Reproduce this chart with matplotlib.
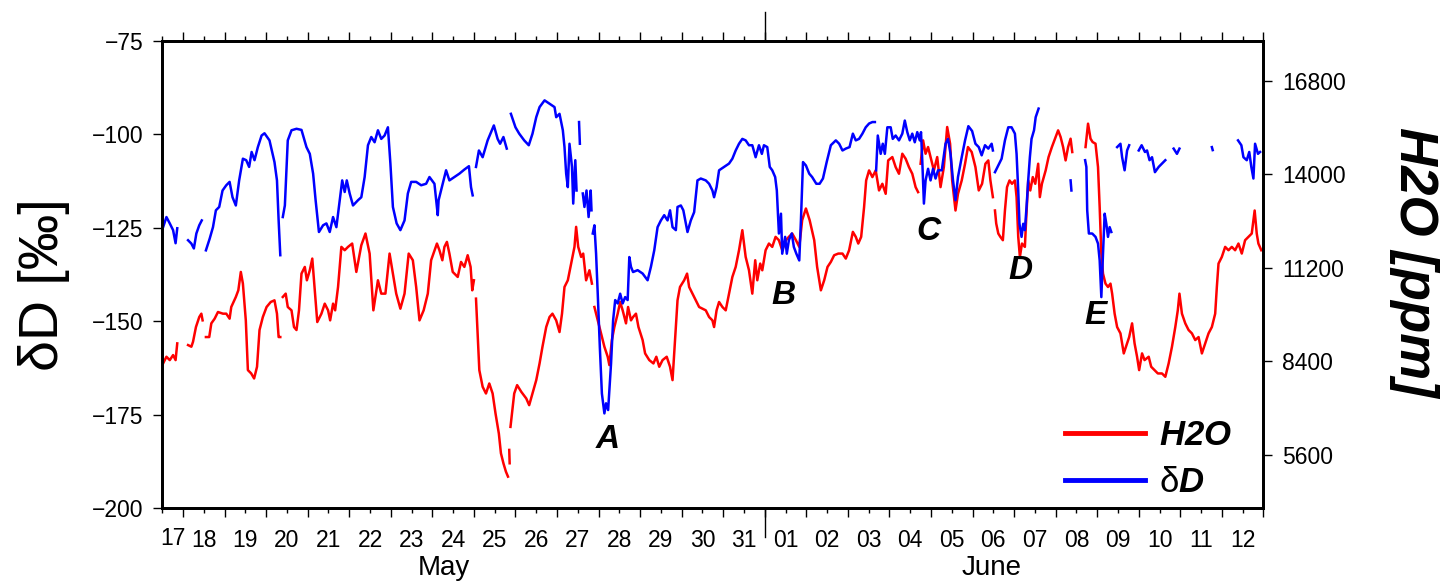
import datetime as dt
import numpy as np
import matplotlib
matplotlib.use('Agg')
import matplotlib.pyplot as plt
import matplotlib.dates as mdates
from matplotlib.lines import Line2D
from matplotlib.ticker import MultipleLocator, NullFormatter, FuncFormatter

nan = np.nan
START = dt.datetime(2016, 5, 17)

# days after 17 May 00:00, nan = gap in the record
dd_day = [0.52, 0.60, 0.68, 0.76, 0.82, 0.86, 0.99,
          1.12, 1.20, 1.26, 1.32, 1.39, 1.45, 1.50,
          1.55, 1.64, 1.72, 1.79, 1.87, 1.95, 2.04, 2.12, 2.19, 2.27, 2.35, 2.44, 2.52, 2.59, 2.65, 2.72,
          2.80, 2.89, 2.96, 3.08, 3.20, 3.26, 3.30, 3.34, 3.37,
          3.40, 3.45, 3.52, 3.61, 3.73, 3.85, 3.97, 4.05, 4.13, 4.19, 4.27, 4.37, 4.45, 4.53, 4.61, 4.69,
          4.77, 4.83, 4.89, 4.94, 5.01, 5.09, 5.21, 5.29, 5.37, 5.45, 5.53, 5.61, 5.69, 5.77, 5.85, 5.93,
          5.99, 6.05, 6.14, 6.23, 6.33, 6.41, 6.49, 6.61, 6.73, 6.85, 6.93, 7.05, 7.13, 7.15, 7.25, 7.33,
          7.41, 7.53, 7.65, 7.77, 7.88, 7.93, 7.97, 8.01,
          8.05, 8.12, 8.21, 8.33, 8.48, 8.57, 8.63, 8.71, 8.79, 8.84,
          8.89, 9.00, 9.09, 9.21, 9.32, 9.41, 9.50, 9.58, 9.70, 9.82, 9.94, 9.98, 10.06, 10.14, 10.18,
          10.22, 10.26, 10.30, 10.36, 10.39, 10.44, 10.47, 10.50,
          10.53, 10.55, 10.58,
          10.62, 10.66, 10.71, 10.76, 10.81, 10.83, 10.845,
          10.86, 10.90, 10.94, 10.98, 11.03, 11.08, 11.14, 11.18, 11.23, 11.30, 11.35, 11.40, 11.46, 11.52,
          11.58, 11.64, 11.70, 11.74, 11.78, 11.83, 11.94, 12.06, 12.18, 12.26, 12.34, 12.42, 12.50, 12.58,
          12.66, 12.72, 12.78, 12.86, 12.90, 12.98, 13.04, 13.14, 13.22, 13.30, 13.38, 13.46, 13.58, 13.66,
          13.74, 13.78, 13.84, 13.90, 14.02, 14.14, 14.22, 14.30, 14.38, 14.46, 14.54, 14.62, 14.70, 14.78,
          14.86, 14.93, 14.98, 15.06, 15.12, 15.18, 15.25, 15.29, 15.34, 15.39, 15.42, 15.49, 15.53, 15.58,
          15.65, 15.70, 15.76, 15.83, 15.87, 15.92, 15.99, 16.07, 16.14, 16.24, 16.32, 16.40, 16.49, 16.59,
          16.71, 16.79, 16.87, 16.95, 17.04, 17.12, 17.19, 17.27, 17.35, 17.43, 17.51, 17.59, 17.65, 17.67,
          17.68, 17.72, 17.79, 17.84, 17.89, 17.95, 18.03, 18.08, 18.15, 18.23, 18.31, 18.37, 18.43, 18.49,
          18.55, 18.61, 18.67, 18.73, 18.76, 18.79, 18.83, 18.87, 18.93, 18.99, 19.05, 19.11, 19.17, 19.26,
          19.35, 19.41, 19.47, 19.53, 19.59, 19.65, 19.74, 19.82, 19.90, 19.99, 20.07, 20.15, 20.22, 20.30,
          20.38, 20.46, 20.49, 20.51,
          20.54, 20.62, 20.70, 20.78, 20.86, 20.94, 21.02, 21.06, 21.10, 21.13, 21.18, 21.22, 21.26, 21.30,
          21.34, 21.38, 21.42, 21.48, 21.52, 21.59, 21.90,
          22.36, 22.38, 22.50,
          22.71, 22.74, 22.76, 22.80, 22.88, 22.96, 23.02, 23.06, 23.10, 23.14, 23.18, 23.22, 23.26, 23.30,
          23.34, 23.40,
          23.48, 23.56, 23.60, 23.66, 23.72, 23.77, 23.90,
          24.00, 24.07, 24.15, 24.20, 24.26, 24.32, 24.39, 24.48, 24.56, 24.64, 24.75,
          24.84, 24.92, 24.98, 25.40,
          25.76, 25.78, 26.00,
          26.39, 26.47, 26.52, 26.60, 26.66, 26.71, 26.76, 26.80, 26.87, 26.92]
dd_val = [-124.9, -122.2, -123.9, -125.7, -129.2, -125.2, nan,
          -128.4, -129.3, -130.6, -126.6, -124.4, -123.1, nan,
          -131.1, -128.0, -124.9, -120.4, -119.5, -115.1, -113.7, -112.8, -116.9, -119.1, -112.4, -106.6, -107.0, -108.8, -104.8, -107.0,
          -103.5, -100.4, -99.8, -101.7, -107.5, -112.4, -123.1, -132.4, nan,
          -122.2, -119.1, -101.7, -99.0, -98.6, -98.9, -103.5, -105.3, -110.6, -117.7, -126.2, -124.4, -123.9, -126.2, -122.2, -124.9,
          -117.7, -112.4, -115.5, -112.4, -115.9, -119.1, -117.7, -116.9, -111.5, -103.0, -100.8, -102.2, -99.0, -101.3, -100.4, -98.2,
          -107.9, -119.5, -123.9, -125.7, -123.1, -115.9, -112.8, -112.8, -113.7, -113.3, -111.5, -113.3, -121.7, -117.7, -113.3, -109.7,
          -112.4, -111.5, -110.6, -109.5, -108.6, -114.2, -116.4, nan,
          -108.8, -104.4, -106.2, -101.7, -97.7, -101.3, -102.6, -100.8, -103.9, nan,
          -94.6, -98.2, -99.9, -101.7, -103.0, -99.9, -95.5, -92.8, -91.0, -91.9, -92.8, -95.5, -94.6, -99.0, -103.5,
          -110.6, -114.2, -102.6, -108.8, -118.6, -107.0, -115.1, nan,
          -96.8, -102.6, nan,
          -115.9, -119.5, -115.1, -122.2, -115.1, -120.4, nan,
          -126.6, -124.4, -132.0, -142.7, -156.9, -169.4, -174.7, -172.0, -173.8, -161.4, -149.8, -144.4, -145.3, -142.7,
          -145.3, -143.6, -144.4, -132.9, -135.5, -136.9, -136.4, -137.3, -139.1, -135.5, -131.1, -124.9, -123.1, -121.7,
          -123.1, -120.4, -124.9, -125.7, -119.5, -119.1, -120.4, -126.2, -123.1, -120.9, -112.4, -111.9, -112.4, -113.3,
          -115.1, -116.9, -114.2, -109.7, -108.8, -107.9, -106.6, -104.4, -102.6, -101.3, -101.7, -103.0, -103.0, -106.2,
          -103.0, -105.3, -103.0, -103.5, -108.8, -109.7, -111.5, -115.1, -126.6, -121.3, -132.0, -127.5, -132.0, -128.4,
          -126.6, -130.2, -132.0, -133.8, -123.1, -107.5, -108.4, -110.6, -111.5, -113.3, -113.3, -111.9, -107.5, -103.0,
          -101.7, -102.6, -104.4, -103.9, -103.5, -99.9, -101.7, -101.3, -99.9, -98.2, -97.2, -96.8, -96.8, nan,
          -109.7, -100.4, -105.3, -102.6, -105.3, -98.2, -98.2, -101.3, -100.4, -101.7, -99.9, -96.4, -99.5, -101.7,
          -99.9, -102.2, -99.5, -101.7, -99.5, -107.0, -118.6, -112.4, -109.3, -112.4, -109.3, -111.9, -109.7, -109.7,
          -102.6, -101.3, -105.3, -112.4, -117.7, -111.5, -106.2, -101.7, -97.9, -99.2, -102.6, -103.5, -105.7, -103.0,
          -103.9, -102.6, -104.4, nan,
          -110.2, -108.4, -106.6, -101.7, -98.2, -98.2, -99.9, -105.3, -115.1, -124.0, -127.5, -124.0, -125.7, -119.5,
          -112.4, -106.2, -101.3, -99.0, -95.5, -93.2, nan,
          -112.4, -115.1, nan,
          -107.0, -108.8, -120.4, -126.6, -126.6, -127.5, -129.3, -133.8, -143.6, -132.0, -121.3, -124.0, -127.5, -124.9,
          -126.2, nan,
          -103.5, -102.6, -106.2, -109.7, -104.4, -103.0, nan,
          -104.4, -103.0, -104.8, -104.4, -107.0, -106.2, -110.2, -108.8, -107.9, -107.0, nan,
          -103.9, -105.3, -103.9, nan,
          -103.5, -104.3, nan,
          -101.7, -103.0, -106.2, -107.0, -104.8, -108.8, -111.9, -102.6, -105.3, -104.8]

h2o_day = [0.52, 0.60, 0.68, 0.76, 0.82, 0.86, 0.99,
           1.12, 1.20, 1.24, 1.31, 1.39, 1.44, 1.47, 1.50,
           1.55, 1.63, 1.68, 1.76, 1.84, 1.96, 2.04, 2.12, 2.16, 2.27, 2.33, 2.39, 2.44, 2.51, 2.56, 2.64,
           2.71, 2.78, 2.84, 2.92, 3.01, 3.11, 3.20, 3.26, 3.30, 3.34, 3.37,
           3.40, 3.47, 3.52, 3.61, 3.67, 3.73, 3.79, 3.85, 3.93, 3.98, 4.05, 4.11, 4.17, 4.23, 4.33, 4.41,
           4.49, 4.54, 4.61, 4.66, 4.73, 4.81, 4.89, 4.97, 5.07, 5.17, 5.29, 5.39, 5.49, 5.58, 5.69, 5.77,
           5.87, 5.97, 6.05, 6.13, 6.23, 6.33, 6.43, 6.53, 6.61, 6.69, 6.79, 6.89, 6.97, 7.11, 7.17, 7.24,
           7.29, 7.35, 7.41, 7.49, 7.61, 7.69, 7.77, 7.85, 7.92, 7.96, 8.00, 8.03,
           8.05, 8.13, 8.21, 8.29, 8.37, 8.45, 8.52, 8.60, 8.65, 8.71, 8.77, 8.82, 8.84,
           8.85, 8.86, 8.87,
           8.88, 8.97, 9.04, 9.14, 9.26, 9.33, 9.41, 9.50, 9.58, 9.65, 9.74, 9.82, 9.89, 9.98, 10.06,
           10.12, 10.18, 10.26, 10.34, 10.42, 10.46, 10.51, 10.58, 10.63, 10.70, 10.78, 10.84, 10.87,
           10.90, 10.98, 11.06, 11.14, 11.22, 11.26, 11.32, 11.38, 11.46, 11.52, 11.58, 11.66, 11.71, 11.78,
           11.83, 11.90, 11.96, 12.06, 12.12, 12.22, 12.32, 12.39, 12.46, 12.54, 12.64, 12.72, 12.78, 12.84,
           12.90, 12.96, 13.06, 13.13, 13.18, 13.26, 13.34, 13.42, 13.50, 13.58, 13.66, 13.74, 13.78, 13.84,
           13.90, 13.98, 14.06, 14.14, 14.22, 14.30, 14.38, 14.46, 14.54, 14.62, 14.70, 14.77, 14.82, 14.89,
           14.94, 15.02, 15.10, 15.18, 15.26, 15.34, 15.42, 15.51, 15.58, 15.66, 15.75, 15.83, 15.90, 15.99,
           16.08, 16.19, 16.26, 16.35, 16.43, 16.51, 16.59, 16.67, 16.77, 16.87, 16.95, 17.03, 17.12, 17.19,
           17.25, 17.32, 17.39, 17.44, 17.51, 17.59, 17.67, 17.75, 17.83, 17.91, 17.97, 18.07, 18.15, 18.23,
           18.31, 18.39, 18.47, 18.55, 18.63, 18.69, 18.72,
           18.75, 18.81, 18.87, 18.93, 18.99, 19.07, 19.15, 19.23, 19.31, 19.39, 19.46, 19.51, 19.59, 19.65,
           19.74, 19.82, 19.89, 19.98, 20.07, 20.15, 20.23, 20.31, 20.38, 20.43, 20.49, 20.51,
           20.54, 20.57, 20.62, 20.67, 20.73, 20.78, 20.83, 20.89, 20.95, 21.02, 21.06, 21.10, 21.14, 21.19,
           21.26, 21.29, 21.34, 21.39, 21.45, 21.51, 21.58, 21.62, 21.67, 21.76, 21.83, 21.91, 22.00, 22.06,
           22.12, 22.18, 22.24, 22.30, 22.36, 22.40, 22.50,
           22.72, 22.78, 22.84, 22.89, 22.96, 23.02, 23.06, 23.10, 23.14, 23.20, 23.26, 23.32, 23.36, 23.42,
           23.48, 23.56, 23.64, 23.72, 23.77, 23.84, 23.90, 23.96, 24.01, 24.08, 24.14, 24.24, 24.30, 24.38,
           24.46, 24.56, 24.64, 24.72, 24.80, 24.88, 24.94, 24.98, 25.04, 25.12, 25.20, 25.28, 25.36, 25.44,
           25.52, 25.60, 25.68, 25.76, 25.84, 25.88, 25.92, 26.00, 26.08, 26.16, 26.24, 26.32, 26.40, 26.48,
           26.56, 26.64, 26.72, 26.79, 26.84, 26.88, 26.95]
h2o_ppm = [8330, 8530, 8430, 8580, 8430, 8930, nan,
           8880, 8830, 8980, 9420, 9720, 9820, 9620, nan,
           9120, 9120, 9530, 9670, 9870, 9820, 9820, 9670, 10020, 10320, 10520, 11070, 10720, 9620, 8130, 8030,
           7880, 8230, 9330, 9720, 10020, 10170, 10220, 9820, 9120, 9120, nan,
           10320, 10420, 10020, 9920, 9420, 9330, 9920, 11020, 11220, 10820, 11120, 11470, 10520, 9570, 9820, 10120,
           9920, 9620, 10120, 9920, 10620, 11820, 11720, 11820, 11920, 11070, 11870, 12220, 11620, 9920, 10820, 10420,
           10420, 11620, 11020, 10420, 9970, 10420, 11620, 11420, 10620, 9620, 9920, 10420, 11420, 11920, 11720, 11420,
           11820, 11970, 11620, 11070, 10920, 11370, 11220, 11570, 11220, 10520, 10820, nan,
           10270, 8130, 7630, 7430, 7730, 7430, 6830, 6230, 5640, 5340, 5090, 4940, nan,
           5740, 5340, nan,
           6430, 7430, 7680, 7480, 7280, 7080, 7430, 7830, 8330, 8830, 9420, 9720, 9820, 9620, 9270,
           9820, 10620, 10820, 11320, 11820, 12420, 11820, 11520, 11620, 10820, 11120, 10720, nan,
           10020, 9620, 9230, 8830, 8530, 8280, 9030, 9420, 9820, 10170, 9920, 9530, 10020, 9620,
           9720, 9820, 9420, 9030, 8630, 8430, 8330, 8530, 8230, 8430, 8530, 8230, 7830, 9030,
           10220, 10620, 10820, 11020, 10620, 10420, 10220, 10020, 9970, 9920, 9720, 9620, 9420, 9920,
           10170, 10020, 9920, 10420, 10920, 11220, 11720, 12320, 11520, 11120, 10420, 11420, 10820, 11320,
           11120, 11720, 11920, 11820, 12120, 12020, 11720, 12020, 12120, 12220, 12020, 11820, 12620, 12970,
           12620, 12020, 11220, 10520, 10820, 11220, 11370, 11570, 11620, 11620, 11470, 11720, 12270, 12120,
           11920, 12120, 13010, 13810, 14110, 13910, 14110, 13510, 13710, 13410, 14410, 14510, 14210, 14010,
           14610, 14460, 14210, 14010, 13610, 13460, nan,
           14310, 15010, 14610, 14810, 14510, 14110, 14510, 13610, 14210, 15410, 14910, 13810, 12910, 13410,
           13810, 14310, 14810, 14660, 14210, 13510, 13710, 14310, 14410, 13810, 13310, nan,
           12910, 12520, 12220, 12120, 12020, 12910, 13610, 13810, 13710, 13810, 13310, 12120, 11520, 11920,
           11820, 12620, 13810, 13510, 13910, 13710, 14310, 13310, 13710, 14110, 14510, 14810, 15110, 15310,
           15110, 14810, 14410, 14810, 15060, 14660, nan,
           14810, 15510, 15060, 14960, 14910, 14210, 13010, 11620, 11020, 10720, 10620, 10720, 10420, 9820,
           9420, 9230, 8630, 8930, 9120, 9530, 8930, 8530, 8130, 8630, 8430, 8530, 8230, 8130,
           8030, 8030, 7930, 8330, 8830, 9420, 9920, 10420, 9820, 9530, 9330, 9230, 9030, 9120,
           8630, 8930, 9230, 9420, 9820, 10620, 11320, 11520, 11820, 11720, 11820, 11720, 11920, 11620,
           12020, 12120, 12220, 12910, 12220, 11920, 11720]

event_names = ['A', 'B', 'C', 'D', 'E']
event_day = [11.23, 15.46, 18.95, 21.16, 22.96]
event_dd = [-181.8, -143.1, -126.0, -136.4, -148.4]

plt.rcParams['font.family'] = ['Liberation Sans', 'DejaVu Sans']
plt.rcParams['mathtext.fontset'] = 'custom'
plt.rcParams['mathtext.rm'] = 'Liberation Sans'
plt.rcParams['mathtext.it'] = 'Liberation Sans:italic'
plt.rcParams['mathtext.bf'] = 'Liberation Sans:bold'
if 'mathtext.bfit' in plt.rcParams:
    plt.rcParams['mathtext.bfit'] = 'Liberation Sans:italic:bold'


def to_dates(days):
    return [START + dt.timedelta(days=d) for d in days]


fig = plt.figure(figsize=(14.49, 5.83), dpi=100, facecolor='white')
ax = fig.add_axes([0.112, 0.1286, 0.7599, 0.8019])
ax2 = ax.twinx()

ax2.plot(to_dates(h2o_day), h2o_ppm, color='#ff0000', lw=1.8)
ax.plot(to_dates(dd_day), dd_val, color='#0000ff', lw=1.8)
# blue on top of red
ax.set_zorder(ax2.get_zorder() + 1)
ax.patch.set_visible(False)

ax.set_xlim(START + dt.timedelta(days=0.5), START + dt.timedelta(days=27))
ax.set_ylim(-200, -75)
ax2.set_ylim(4000, 18000)
ax.yaxis.set_major_locator(MultipleLocator(25))
ax2.yaxis.set_major_locator(MultipleLocator(2800))

ax.xaxis.set_major_locator(mdates.DayLocator())
ax.xaxis.set_major_formatter(NullFormatter())
ax.xaxis.set_minor_locator(mdates.HourLocator(byhour=12))


def day_label(x, pos):
    d = mdates.num2date(x)
    if d.month == 5 and d.day == 17:
        return ''
    return d.strftime('%d')


ax.xaxis.set_minor_formatter(FuncFormatter(day_label))

ax.tick_params(axis='x', which='major', direction='out', length=6.5, width=1, top=True)
ax.tick_params(axis='x', which='minor', direction='out', length=3.5, width=1, top=True,
               labelsize=16.5, pad=11.5)
ax.tick_params(axis='y', which='major', direction='out', length=6.5, width=1,
               labelsize=16.5, pad=7)
ax2.tick_params(axis='y', which='major', direction='out', length=6.5, width=1,
                labelsize=16.5, pad=7)
for a in (ax, ax2):
    for sp in a.spines.values():
        sp.set_linewidth(2)

xtr = ax.get_xaxis_transform()
ax.text(START + dt.timedelta(days=0.75), -0.066, '17', transform=xtr,
        ha='center', va='center', fontsize=16.5)
ax.text(START + dt.timedelta(days=7.27), -0.129, 'May', transform=xtr,
        ha='center', va='center', fontsize=20)
ax.text(START + dt.timedelta(days=20.46), -0.129, 'June', transform=xtr,
        ha='center', va='center', fontsize=20)

# month boundary marker
jun1 = START + dt.timedelta(days=15)
ax.plot([jun1, jun1], [1.0, 1.06], transform=xtr, clip_on=False, color='k', lw=1)
ax.plot([jun1, jun1], [-0.062, 0.0], transform=xtr, clip_on=False, color='k', lw=1)

for name, d, v in zip(event_names, event_day, event_dd):
    ax.text(START + dt.timedelta(days=d), v, name, ha='center', va='center',
            fontsize=24, fontweight='bold', fontstyle='italic')

handles = [Line2D([], [], color='#ff0000', lw=3.5), Line2D([], [], color='#0000ff', lw=3.5)]
leg = ax.legend(handles, [r'$\mathbfit{H2O}$', r'$\mathrm{\delta}\mathbfit{D}$'],
                loc='lower right', bbox_to_anchor=(0.971, 0.02), frameon=False,
                fontsize=25, handlelength=2.3, handletextpad=0.4, labelspacing=0.4,
                borderpad=0, borderaxespad=0)

fig.text(0.0304, 0.511, 'δD [‰]', rotation=90, fontsize=40, ha='center', va='center')
fig.text(0.9758, 0.5506, 'H2O [ppm]', rotation=-90, fontsize=38, fontweight='bold',
         fontstyle='italic', ha='center', va='center')

fig.savefig('out.png', dpi=100)
